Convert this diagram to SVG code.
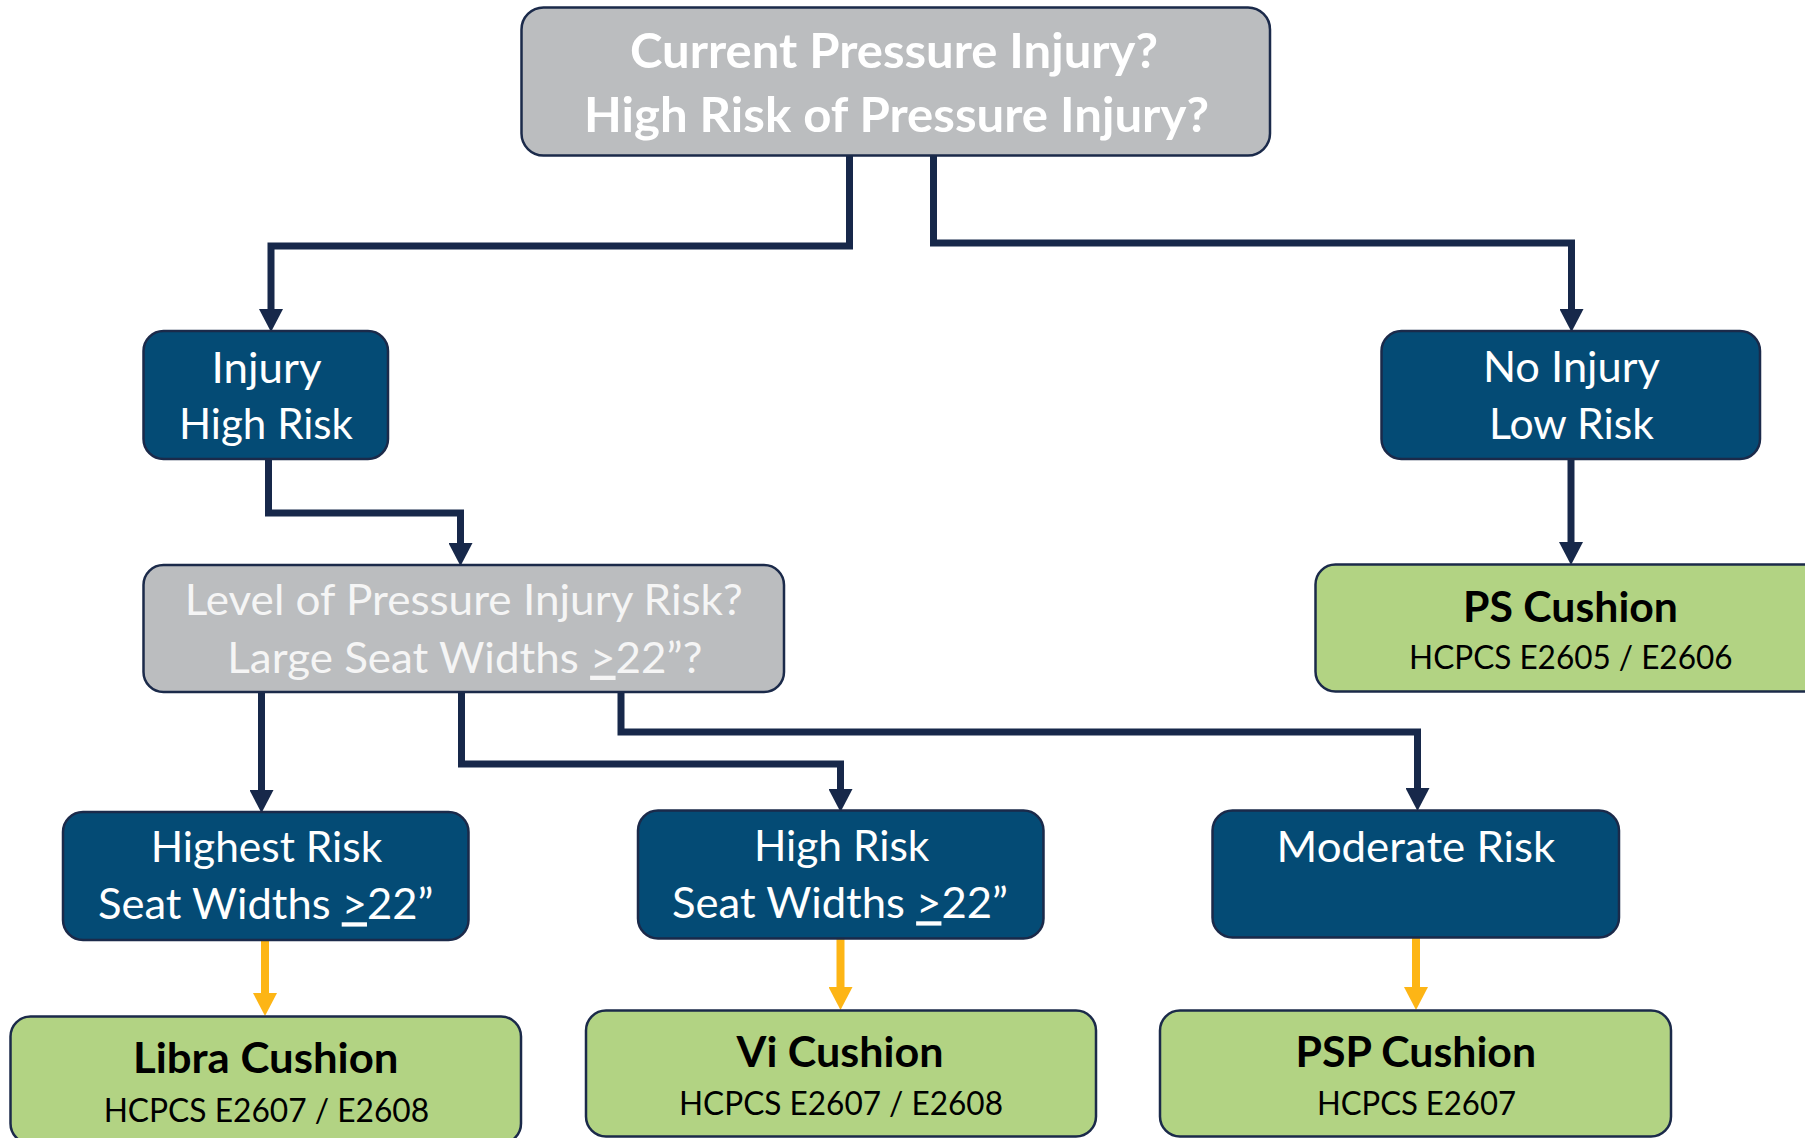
<svg xmlns="http://www.w3.org/2000/svg" width="1805" height="1138" viewBox="0 0 1805 1138">
<style>
.box{stroke:#1b2a4a;stroke-width:2.5}
.gray{fill:#bbbdbf}
.blue{fill:#044b75}
.green{fill:#b2d383}
.t{font-family:Lato,"Open Sans","Liberation Sans",sans-serif;text-anchor:middle}
.tb{font-weight:bold;font-size:48px;fill:#ffffff}
.tw{font-size:43px;fill:#ffffff}
.tl{font-size:43px;fill:#f5f5f5}
.tc{font-weight:bold;font-size:42px;fill:#000000}
.th{font-size:33.5px;fill:#000000}
.nav{fill:none;stroke:#17284a;stroke-width:7}
.org{fill:none;stroke:#fdb515;stroke-width:8}
.u{text-decoration:underline}
</style>
<defs>
<marker id="an" markerUnits="userSpaceOnUse" markerWidth="23" markerHeight="24" refX="0" refY="12" orient="auto" viewBox="0 0 23 24">
<path d="M0,0 L23,12 L0,24 Z" fill="#17284a"/>
</marker>
<marker id="ao" markerUnits="userSpaceOnUse" markerWidth="23" markerHeight="24" refX="0" refY="12" orient="auto" viewBox="0 0 23 24">
<path d="M0,0 L23,12 L0,24 Z" fill="#fdb515"/>
</marker>
</defs>
<rect width="1805" height="1138" fill="#ffffff"/>
<g id="connectors">
<path class="nav" d="M849.5,156 V246 H271 V309" marker-end="url(#an)"/>
<path class="nav" d="M933.5,156 V243 H1571.5 V309" marker-end="url(#an)"/>
<path class="nav" d="M268.5,459 V513 H460.5 V543" marker-end="url(#an)"/>
<path class="nav" d="M261.5,692 V790" marker-end="url(#an)"/>
<path class="nav" d="M461.5,692 V764 H840.5 V789" marker-end="url(#an)"/>
<path class="nav" d="M621,692 V732 H1417.5 V788" marker-end="url(#an)"/>
<path class="nav" d="M1571,459 V542" marker-end="url(#an)"/>
<path class="org" d="M265,940 V993" marker-end="url(#ao)"/>
<path class="org" d="M840.5,938 V987" marker-end="url(#ao)"/>
<path class="org" d="M1416,938 V987" marker-end="url(#ao)"/>
</g>
<g id="node-top">
<rect class="box gray" x="521.5" y="7.5" width="748.5" height="148" rx="22"/>
<text class="t tb" x="894" y="68" textLength="528" lengthAdjust="spacingAndGlyphs">Current Pressure Injury?</text>
<text class="t tb" x="896.5" y="131.5" textLength="625" lengthAdjust="spacingAndGlyphs">High Risk of Pressure Injury?</text>
</g>
<g id="node-injury">
<rect class="box blue" x="143.5" y="331" width="244.5" height="128" rx="20"/>
<text class="t tw" x="266.6" y="382.7" textLength="110" lengthAdjust="spacingAndGlyphs">Injury</text>
<text class="t tw" x="266" y="439.3" textLength="174" lengthAdjust="spacingAndGlyphs">High Risk</text>
</g>
<g id="node-noinjury">
<rect class="box blue" x="1381.5" y="331" width="378.5" height="128" rx="20"/>
<text class="t tw" x="1571.4" y="381.7" textLength="177" lengthAdjust="spacingAndGlyphs">No Injury</text>
<text class="t tw" x="1571.5" y="439" textLength="165" lengthAdjust="spacingAndGlyphs">Low Risk</text>
</g>
<g id="node-level">
<rect class="box gray" x="143.5" y="565" width="640.5" height="127" rx="20"/>
<text class="t tl" x="463.7" y="615" textLength="558" lengthAdjust="spacingAndGlyphs">Level of Pressure Injury Risk?</text>
<text class="t tl" x="464.8" y="672.7" textLength="475" lengthAdjust="spacingAndGlyphs">Large Seat Widths <tspan class="u">&gt;</tspan>22”?</text>
</g>
<g id="node-ps">
<rect class="box green" x="1315.5" y="564.5" width="511" height="127" rx="20"/>
<text class="t tc" x="1570.5" y="621.7" textLength="215" lengthAdjust="spacingAndGlyphs">PS Cushion</text>
<text class="t th" x="1570.8" y="669.3" textLength="323.5" lengthAdjust="spacingAndGlyphs">HCPCS E2605 / E2606</text>
</g>
<g id="node-highest">
<rect class="box blue" x="63" y="812" width="405.5" height="128" rx="20"/>
<text class="t tw" x="266.5" y="862.3" textLength="231.5" lengthAdjust="spacingAndGlyphs">Highest Risk</text>
<text class="t tw" x="265.7" y="919.3" textLength="335.5" lengthAdjust="spacingAndGlyphs">Seat Widths <tspan class="u">&gt;</tspan>22”</text>
</g>
<g id="node-high">
<rect class="box blue" x="638" y="810.5" width="405.5" height="128" rx="20"/>
<text class="t tw" x="841.7" y="861" textLength="175.5" lengthAdjust="spacingAndGlyphs">High Risk</text>
<text class="t tw" x="840" y="918.3" textLength="336" lengthAdjust="spacingAndGlyphs">Seat Widths <tspan class="u">&gt;</tspan>22”</text>
</g>
<g id="node-moderate">
<rect class="box blue" x="1212.5" y="810.5" width="406.5" height="127" rx="20"/>
<text class="t tw" x="1416" y="861.7" textLength="278.8" lengthAdjust="spacingAndGlyphs">Moderate Risk</text>
</g>
<g id="node-libra">
<rect class="box green" x="10.5" y="1016.5" width="510.5" height="127" rx="20"/>
<text class="t tc" x="265.7" y="1073" textLength="265.5" lengthAdjust="spacingAndGlyphs">Libra Cushion</text>
<text class="t th" x="266.4" y="1121.7" textLength="325.5" lengthAdjust="spacingAndGlyphs">HCPCS E2607 / E2608</text>
</g>
<g id="node-vi">
<rect class="box green" x="586" y="1010.5" width="510" height="126" rx="20"/>
<text class="t tc" x="840" y="1066.7" textLength="207" lengthAdjust="spacingAndGlyphs">Vi Cushion</text>
<text class="t th" x="841" y="1115" textLength="324" lengthAdjust="spacingAndGlyphs">HCPCS E2607 / E2608</text>
</g>
<g id="node-psp">
<rect class="box green" x="1160" y="1010.5" width="511" height="126" rx="20"/>
<text class="t tc" x="1415.8" y="1067.3" textLength="240.5" lengthAdjust="spacingAndGlyphs">PSP Cushion</text>
<text class="t th" x="1416.5" y="1115" textLength="199" lengthAdjust="spacingAndGlyphs">HCPCS E2607</text>
</g>
</svg>
